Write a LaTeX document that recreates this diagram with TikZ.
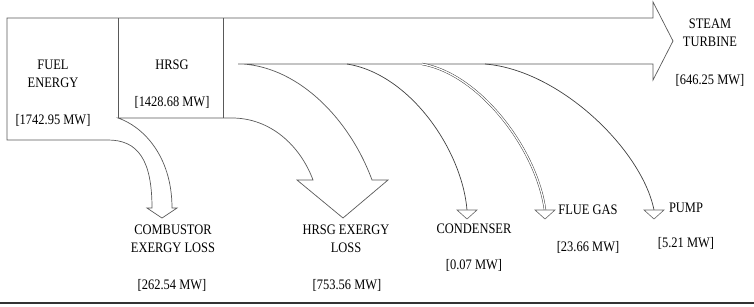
\documentclass[tikz,border=0pt]{standalone}
\usepackage{fontspec}
\setmainfont{Liberation Serif}[FakeStretch=0.86]
\usetikzlibrary{positioning}

\begin{document}
\begin{tikzpicture}[
    x=1pt, y=-1pt,
    lbl/.style={inner sep=0pt, align=center, font=\fontsize{14.5}{17.5}\selectfont, text=black},
    flow/.style={draw=black!65, line width=0.7pt, line join=miter},
    thinflow/.style={draw=black!75, line width=0.7pt},
    tip/.style={draw=black!60, line width=0.6pt, fill=white}
]
\useasboundingbox (0,0) rectangle (754,306);

% Main band
\draw[flow] (238,64) -- (653,64) -- (653,80) -- (673,41) -- (653,2) -- (653,18) -- (7,18) -- (7,140) -- (108,140)
    .. controls (138,140) and (152,160) .. (152,208) -- (147,208) -- (162,218) -- (177,208) -- (172,208)
    .. controls (172,155) and (142,126) .. (118,118) -- (232,118)
    .. controls (270,118) and (300,145) .. (313,180) -- (297,180) -- (343,218) -- (388,180) -- (372,180)
    .. controls (350,120) and (300,68) .. (243,64) -- cycle;
\draw[flow] (118,18) -- (118,118);
\draw[flow] (223,18) -- (223,118);

% Small losses
\coordinate (cond0) at (347,64);
\coordinate (cond1) at (467,210);
\coordinate (flue0) at (422,64);
\coordinate (flue1) at (545,210);
\coordinate (pump0) at (485,64);
\coordinate (pump1) at (654,210);
\draw[thinflow] (cond0) .. controls (410,74) and (462,150) .. (cond1);
\draw[thinflow, double=white, double distance=1.3pt, line width=0.5pt] (flue0) .. controls (480,74) and (537,150) .. (flue1);
\draw[thinflow] (pump0) .. controls (560,70) and (642,150) .. (pump1);
\draw[tip] (457,210) -- (467,219) -- (477,210) -- cycle;
\draw[tip] (535,210) -- (545,219) -- (555,210) -- cycle;
\draw[tip] (644,210) -- (654,219) -- (664,210) -- cycle;

% Labels
\node[lbl] (fuel) at (53,74) {FUEL\\ENERGY};
\node[lbl] (fuelv) at (53,120) {[1742.95 MW]};
\node[lbl] (hrsg) at (172,65) {HRSG};
\node[lbl] (hrsgv) at (172,102) {[1428.68 MW]};
\node[lbl] (steam) at (710,33) {STEAM\\TURBINE};
\node[lbl] (steamv) at (710,80) {[646.25 MW]};
\node[lbl] (comb) at (173,239) {COMBUSTOR\\EXERGY LOSS};
\node[lbl] (combv) at (172,285) {[262.54 MW]};
\node[lbl] (hloss) at (346,239) {HRSG EXERGY\\LOSS};
\node[lbl] (hlossv) at (347,285) {[753.56 MW]};
\node[lbl] (cond) at (474,229) {CONDENSER};
\node[lbl] (condv) at (474,265) {[0.07 MW]};
\node[lbl] (flue) at (588,210) {FLUE GAS};
\node[lbl] (fluev) at (588,247) {[23.66 MW]};
\node[lbl] (pump) at (686,208) {PUMP};
\node[lbl] (pumpv) at (686,243) {[5.21 MW]};

% Rule
\draw[line width=2pt, black!80] (0,303) -- (754,303);
\end{tikzpicture}
\end{document}
